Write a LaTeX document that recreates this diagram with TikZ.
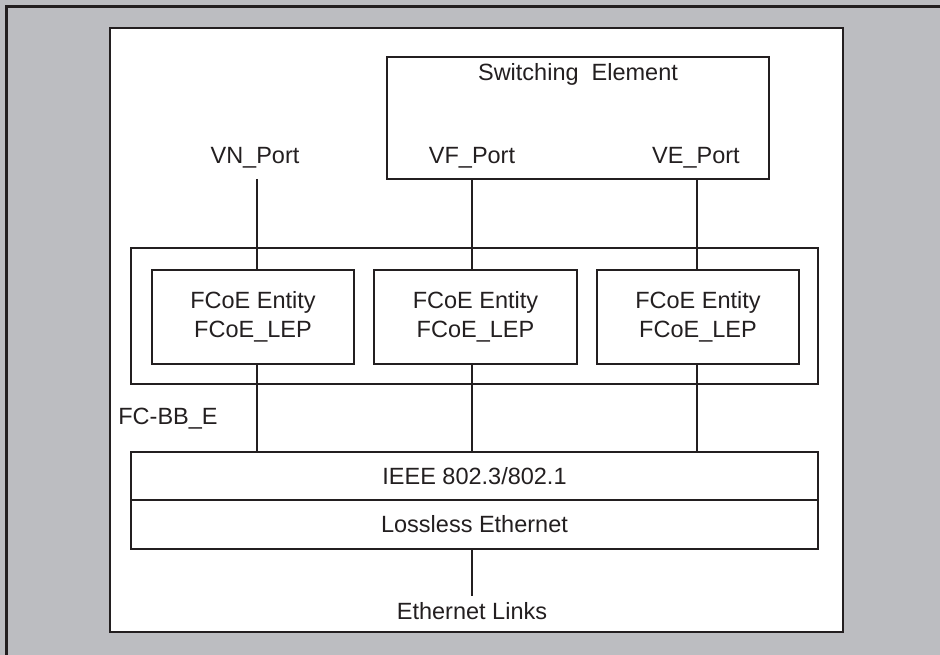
\documentclass[tikz,border=0pt]{standalone}
\usepackage{fontspec}
\setmainfont{Liberation Sans}
\definecolor{panelgray}{RGB}{188,189,193}
\definecolor{inkline}{RGB}{35,31,32}
\tikzset{
  box/.style={draw=inkline, line width=2.9pt, fill=white, inner sep=0pt},
  wire/.style={draw=inkline, line width=2.9pt},
  lbl/.style={inner sep=0pt, text=inkline, font=\fontsize{23.5}{28.5}\selectfont, align=center},
}
\begin{document}
\begin{tikzpicture}[x=1pt, y=-1pt]
  \useasboundingbox (0,0) rectangle (940,655);
  % grey panel with its top and left edge
  \fill[panelgray] (0,0) rectangle (940,655);
  \draw[inkline, line width=3pt] (6.5,655) -- (6.5,7) -- (940,7);

  % white frame
  \node[box, minimum width=733pt, minimum height=604pt] (frame) at (476.5,330) {};

  % switching element
  \node[box, minimum width=382pt, minimum height=122pt] (sw) at (578,118) {};
  \node[lbl] (swt) at (578,74) {Switching\ \ Element};
  \node[lbl] (vnp) at (255,158) {VN\_Port};
  \node[lbl] (vfp) at (472,158) {VF\_Port};
  \node[lbl] (vep) at (696,158) {VE\_Port};
  \coordinate (vnend) at (257,179);

  % FCoE entities inside their container
  \node[box, minimum width=687pt, minimum height=136pt] (cont) at (474.5,316) {};
  \node[box, minimum width=202pt, minimum height=94pt, lbl] (e1) at (253,317) {FCoE Entity\\FCoE\_LEP};
  \node[box, minimum width=203pt, minimum height=94pt, lbl] (e2) at (475.5,317) {FCoE Entity\\FCoE\_LEP};
  \node[box, minimum width=202pt, minimum height=94pt, lbl] (e3) at (698,317) {FCoE Entity\\FCoE\_LEP};

  \node[lbl] (fcbb) at (168,419) {FC-BB\_E};

  % Ethernet layers
  \node[box, minimum width=687pt, minimum height=48pt, lbl] (ieee) at (474.5,476) {IEEE 802.3/802.1};
  \node[box, minimum width=687pt, minimum height=49pt, lbl] (lle) at (474.5,524.5) {Lossless Ethernet};

  \node[lbl] (links) at (472,611) {Ethernet Links};
  \coordinate (linkend) at (472,596);

  % connectors
  \draw[wire] (vnend) -- (vnend |- e1.north);
  \draw[wire] (sw.south -| 472,0) -- (e2.north -| 472,0);
  \draw[wire] (sw.south -| 697,0) -- (e3.north -| 697,0);
  \draw[wire] (e1.south -| 257,0) -- (ieee.north -| 257,0);
  \draw[wire] (e2.south -| 472,0) -- (ieee.north -| 472,0);
  \draw[wire] (e3.south -| 697,0) -- (ieee.north -| 697,0);
  \draw[wire] (lle.south -| linkend) -- (linkend);
\end{tikzpicture}
\end{document}
